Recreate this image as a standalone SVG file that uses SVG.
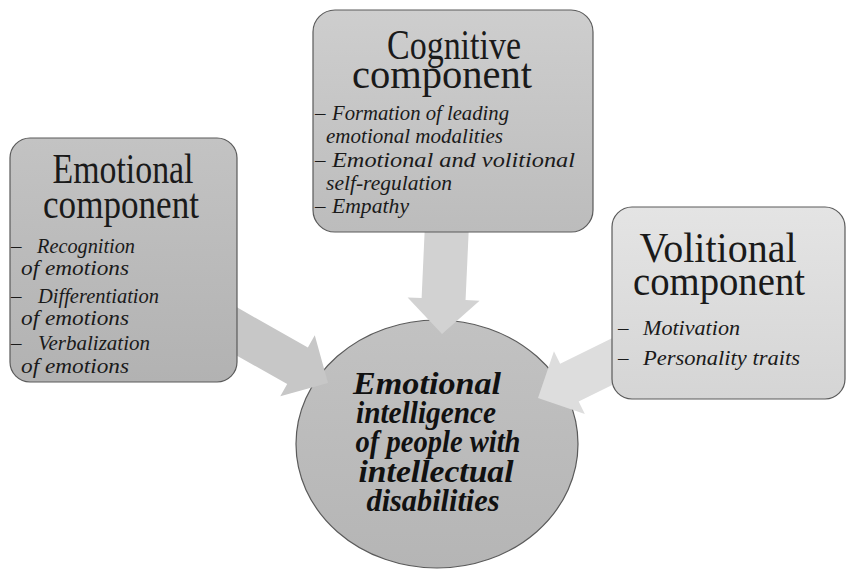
<svg xmlns="http://www.w3.org/2000/svg" width="846" height="569" viewBox="0 0 846 569">
  <defs>
    <linearGradient id="gEmo" x1="0" y1="0" x2="0" y2="1">
      <stop offset="0" stop-color="#c3c3c3"/>
      <stop offset="1" stop-color="#b2b2b2"/>
    </linearGradient>
    <linearGradient id="gCog" x1="0" y1="0" x2="0" y2="1">
      <stop offset="0" stop-color="#cecece"/>
      <stop offset="1" stop-color="#bcbcbc"/>
    </linearGradient>
    <linearGradient id="gVol" x1="0" y1="0" x2="0" y2="1">
      <stop offset="0" stop-color="#e4e4e4"/>
      <stop offset="1" stop-color="#d5d5d5"/>
    </linearGradient>
    <linearGradient id="gCore" x1="0" y1="0" x2="0" y2="1">
      <stop offset="0" stop-color="#c2c2c2"/>
      <stop offset="1" stop-color="#b5b5b5"/>
    </linearGradient>
  </defs>
  <style>
    .box { stroke: #5a5a5a; stroke-width: 1.2; }
    .title { font-family: "Liberation Serif", "Times New Roman", serif; font-size: 43px; fill: #1a1a1a; text-anchor: middle; }
    .item { font-family: "Liberation Serif", "Times New Roman", serif; font-size: 21px; font-style: italic; fill: #1a1a1a; }
    .core { font-family: "Liberation Serif", "Times New Roman", serif; font-size: 32px; font-style: italic; font-weight: bold; fill: #111; text-anchor: middle; }
  </style>

  <!-- central node -->
  <g id="core">
    <ellipse cx="437" cy="444" rx="141" ry="124" fill="url(#gCore)" stroke="#5a5a5a" stroke-width="1.2"/>
    <text class="core" x="427" y="394" textLength="148" lengthAdjust="spacingAndGlyphs">Emotional</text>
    <text class="core" x="426" y="423" textLength="140" lengthAdjust="spacingAndGlyphs">intelligence</text>
    <text class="core" x="438" y="452" textLength="165" lengthAdjust="spacingAndGlyphs">of people with</text>
    <text class="core" x="436" y="482" textLength="155" lengthAdjust="spacingAndGlyphs">intellectual</text>
    <text class="core" x="433" y="511" textLength="133" lengthAdjust="spacingAndGlyphs">disabilities</text>
  </g>

  <!-- block arrows: tip at origin, pointing along +x -->
  <g id="connectors">
    <polygon transform="translate(328 383) rotate(29.5)" fill="#c7c7c7" points="-118,-21 -35,-21 -35,-35 0,0 -35,35 -35,21 -118,21"/>
    <polygon transform="translate(442 334) rotate(92.6)" fill="#d2d2d2" points="-106,-22 -35,-22 -35,-36 0,0 -35,36 -35,22 -106,22"/>
    <polygon transform="translate(538 398) rotate(153.8)" fill="#dddddd" points="-95,-21 -35,-21 -35,-35 0,0 -35,35 -35,21 -95,21"/>
  </g>

  <g id="emotional">
    <rect class="box" x="10" y="138" width="227" height="244" rx="20" fill="url(#gEmo)"/>
    <text class="title" x="123" y="183" textLength="141" lengthAdjust="spacingAndGlyphs">Emotional</text>
    <text class="title" x="121" y="218" textLength="156" lengthAdjust="spacingAndGlyphs">component</text>
    <text class="item" x="11" y="253">–</text><text class="item" x="37" y="253" textLength="98" lengthAdjust="spacingAndGlyphs">Recognition</text>
    <text class="item" x="21" y="275" textLength="108" lengthAdjust="spacingAndGlyphs">of emotions</text>
    <text class="item" x="11" y="303">–</text><text class="item" x="38" y="303" textLength="121" lengthAdjust="spacingAndGlyphs">Differentiation</text>
    <text class="item" x="21" y="325" textLength="108" lengthAdjust="spacingAndGlyphs">of emotions</text>
    <text class="item" x="11" y="350">–</text><text class="item" x="38" y="350" textLength="112" lengthAdjust="spacingAndGlyphs">Verbalization</text>
    <text class="item" x="21" y="373" textLength="108" lengthAdjust="spacingAndGlyphs">of emotions</text>
  </g>

  <g id="cognitive">
    <rect class="box" x="313" y="10" width="280" height="222" rx="22" fill="url(#gCog)"/>
    <text class="title" x="454" y="59" textLength="134" lengthAdjust="spacingAndGlyphs">Cognitive</text>
    <text class="title" x="442" y="88" textLength="180" lengthAdjust="spacingAndGlyphs">component</text>
    <text class="item" x="315" y="120">–</text><text class="item" x="332" y="120" textLength="177" lengthAdjust="spacingAndGlyphs">Formation of leading</text>
    <text class="item" x="326" y="143" textLength="177" lengthAdjust="spacingAndGlyphs">emotional modalities</text>
    <text class="item" x="315" y="167">–</text><text class="item" x="332" y="167" textLength="243" lengthAdjust="spacingAndGlyphs">Emotional and volitional</text>
    <text class="item" x="326" y="190" textLength="126" lengthAdjust="spacingAndGlyphs">self-regulation</text>
    <text class="item" x="315" y="213">–</text><text class="item" x="332" y="213" textLength="77" lengthAdjust="spacingAndGlyphs">Empathy</text>
  </g>

  <g id="volitional">
    <rect class="box" x="612" y="207" width="233" height="192" rx="20" fill="url(#gVol)"/>
    <text class="title" x="718" y="262" textLength="157" lengthAdjust="spacingAndGlyphs">Volitional</text>
    <text class="title" x="719" y="295" textLength="172" lengthAdjust="spacingAndGlyphs">component</text>
    <text class="item" x="618" y="335">–</text><text class="item" x="643" y="335" textLength="97" lengthAdjust="spacingAndGlyphs">Motivation</text>
    <text class="item" x="618" y="365">–</text><text class="item" x="643" y="365" textLength="157" lengthAdjust="spacingAndGlyphs">Personality traits</text>
  </g>
</svg>
